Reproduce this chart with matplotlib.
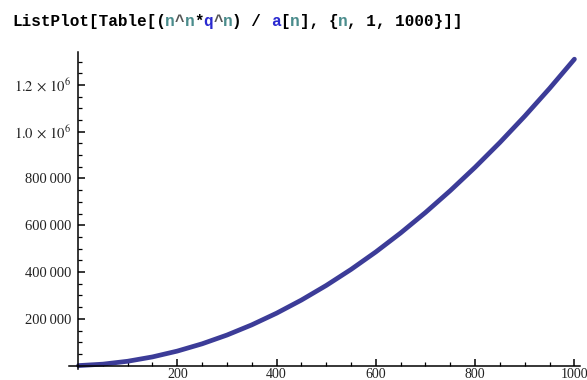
import matplotlib.pyplot as plt

# values
n = [1, 50, 100, 150, 200, 250, 300, 350, 400, 450, 500,
     550, 600, 650, 700, 750, 800, 850, 900, 950, 1000]
ratio = [0, 6100, 18500, 37100, 62000, 93100, 130500, 174100, 224000, 280100, 342500,
         411100, 486000, 567100, 654500, 748100, 848000, 954100, 1066500, 1185100, 1310000]

xticks = [200, 400, 600, 800, 1000]
yticks = [200000, 400000, 600000, 800000, 1000000, 1200000]
ylabels = ['200\u2009000', '400\u2009000', '600\u2009000', '800\u2009000',
           r'$1.0\,\times\,10^{6}$', r'$1.2\,\times\,10^{6}$']

# title pieces: (text, colour)
title_parts = [('ListPlot[Table[(', 'black'), ('n', '#4a8c8c'), ('^', '#555555'),
               ('n', '#4a8c8c'), ('*', 'black'), ('q', '#2a2ad0'), ('^', '#555555'),
               ('n', '#4a8c8c'), (') / ', 'black'), ('a', '#2a2ad0'), ('[', 'black'),
               ('n', '#4a8c8c'), ('], {', 'black'), ('n', '#4a8c8c'), (', 1, 1000}]]', 'black')]

plt.rcParams['font.family'] = 'Liberation Serif'
plt.rcParams['mathtext.fontset'] = 'stix'

fig = plt.figure(figsize=(5.87, 3.80), dpi=100)
ax = fig.add_axes([0.1177, 0.029, 0.871, 0.835])

ax.plot(n, ratio, color='#3c3c98', lw=3.4, solid_capstyle='round')

ax.set_xlim(-18, 1012)
ax.set_ylim(-14500, 1342000)

ax.spines['left'].set_position(('data', 0))
ax.spines['bottom'].set_position(('data', 0))
ax.spines['top'].set_visible(False)
ax.spines['right'].set_visible(False)
for s in ['left', 'bottom']:
    ax.spines[s].set_linewidth(1.1)

ax.set_xticks(xticks)
ax.set_xticks([50 * i for i in range(1, 21) if (50 * i) % 200], minor=True)
ax.set_yticks(yticks)
ax.set_yticklabels(ylabels)
ax.set_yticks([50000 * i for i in range(1, 27) if (50000 * i) % 200000], minor=True)

ax.tick_params(which='both', direction='in', colors='black', labelcolor='#222222', labelsize=10)
ax.tick_params(axis='y', labelsize=10.5)
ax.tick_params(which='major', length=5, width=1.1)
ax.tick_params(which='minor', length=3, width=0.9)
ax.tick_params(axis='y', pad=5)
ax.tick_params(axis='x', pad=1.5)

# multicoloured monospace title
fs = 11.5
cw = 0.6 * fs * 100 / 72
x0 = 12
i = 0
for txt, col in title_parts:
    fig.text((x0 + i * cw) / 587, 1 - 21.5 / 380, txt, color=col, family='Liberation Mono',
             fontweight='bold', fontsize=fs, va='center', ha='left')
    i += len(txt)

fig.savefig('out.png', dpi=100)
